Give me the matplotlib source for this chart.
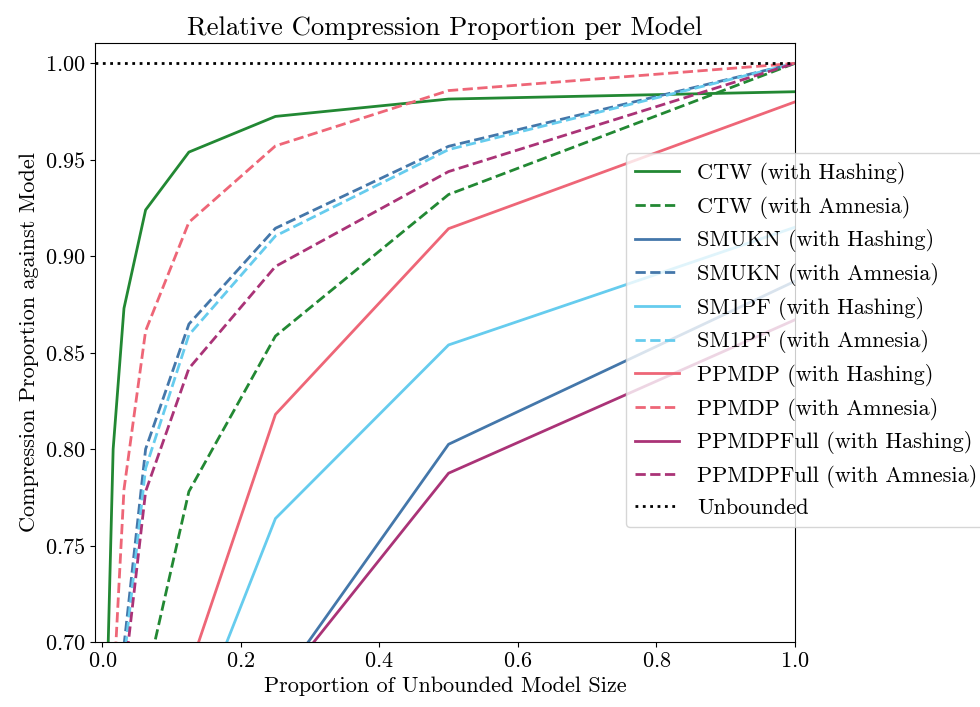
import numpy as np
import matplotlib
matplotlib.use("Agg")
import matplotlib.pyplot as plt

# Computer Modern look
plt.rcParams["font.family"] = "serif"
plt.rcParams["font.serif"] = ["cmr10"]
plt.rcParams["mathtext.fontset"] = "cm"
plt.rcParams["axes.formatter.use_mathtext"] = True
plt.rcParams["font.size"] = 16

# Model size as a fraction of the unbounded model
sizes = [1/128, 1/64, 1/32, 1/16, 1/8, 1/4, 1/2, 1]
nan = np.nan

ctw_hash = [0.690, 0.800, 0.873, 0.924, 0.954, 0.9725, 0.9815, 0.9853]
ctw_amn = [nan, nan, nan, 0.679, 0.778, 0.8586, 0.932, 1.0]
smukn_hash = [nan, nan, nan, nan, nan, 0.676, 0.8025, 0.887]
smukn_amn = [nan, nan, 0.698, 0.800, 0.8648, 0.9145, 0.957, 1.0]
sm1pf_hash = [nan, nan, nan, nan, 0.650, 0.764, 0.854, 0.915]
sm1pf_amn = [nan, nan, 0.690, 0.790, 0.8592, 0.9105, 0.9553, 1.0]
ppmdp_hash = [nan, nan, nan, nan, 0.685, 0.818, 0.9143, 0.980]
ppmdp_amn = [nan, 0.672, 0.779, 0.8613, 0.9176, 0.9572, 0.9859, 1.0]
ppmdpfull_hash = [nan, nan, nan, nan, nan, 0.675, 0.7875, 0.867]
ppmdpfull_amn = [nan, nan, 0.680, 0.778, 0.8418, 0.8947, 0.9439, 1.0]

models = ["CTW", "SMUKN", "SM1PF", "PPMDP", "PPMDPFull"]
colors = ["#228833", "#4477AA", "#66CCEE", "#EE6677", "#AA3377"]
hashing = [ctw_hash, smukn_hash, sm1pf_hash, ppmdp_hash, ppmdpfull_hash]
amnesia = [ctw_amn, smukn_amn, sm1pf_amn, ppmdp_amn, ppmdpfull_amn]

fig = plt.figure(figsize=(9.8, 7.07), dpi=100)
ax = fig.add_axes([0.097, 0.092, 0.714, 0.847])

for name, col, h, a in zip(models, colors, hashing, amnesia):
    ax.plot(sizes, h, color=col, lw=2, label=f"{name} (with Hashing)")
    ax.plot(sizes, a, color=col, lw=2, ls="--", label=f"{name} (with Amnesia)")

ax.axhline(1.0, color="k", ls=":", lw=2, label="Unbounded")

ax.set_xlim(-0.0105, 1.0)
ax.set_ylim(0.70, 1.0105)
ax.set_xticks([0.0, 0.2, 0.4, 0.6, 0.8, 1.0])
ax.set_yticks([0.70, 0.75, 0.80, 0.85, 0.90, 0.95, 1.00])

ax.set_title("Relative Compression Proportion per Model")
ax.set_xlabel("Proportion of Unbounded Model Size")
ax.set_ylabel("Compression Proportion against Model")
ax.legend(loc="center left", bbox_to_anchor=(0.7586, 0.504), borderaxespad=0,
          labelspacing=0.48)

fig.savefig("out.png", dpi=100)
